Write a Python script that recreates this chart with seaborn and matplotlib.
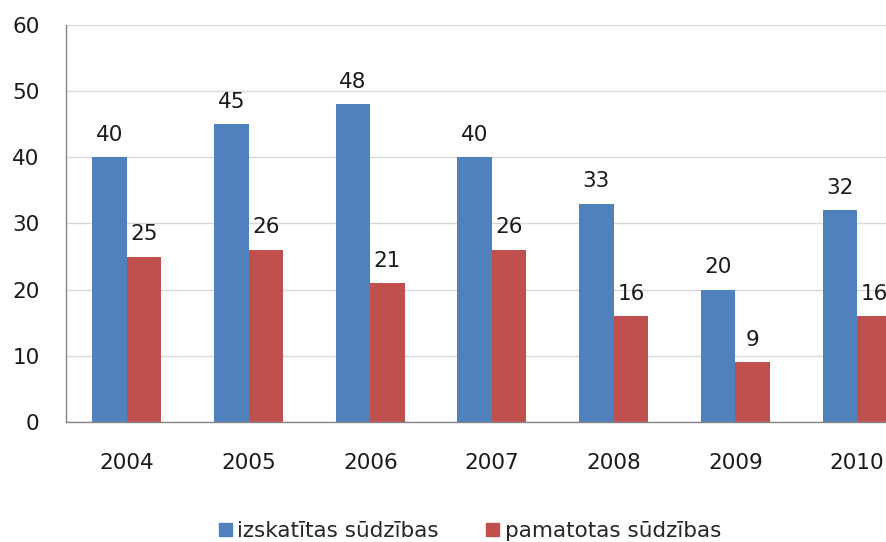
import matplotlib
matplotlib.use("Agg")
import matplotlib.pyplot as plt
import numpy as np
import pandas as pd
import seaborn as sns

years = ["2004", "2005", "2006", "2007", "2008", "2009", "2010"]
izskatitas = [40, 45, 48, 40, 33, 20, 32]
pamatotas = [25, 26, 21, 26, 16, 9, 16]
series_names = ["izskatītas sūdzības", "pamatotas sūdzības"]
colors = ["#4F81BD", "#C0504D"]

df = pd.DataFrame({
    "year": years * 2,
    "value": izskatitas + pamatotas,
    "series": [series_names[0]] * len(years) + [series_names[1]] * len(years),
})

sns.set_style("white")
plt.rcParams["font.family"] = ["DejaVu Sans"]

fs = 15.5

fig = plt.figure(figsize=(8.87, 5.42), dpi=100)
ax = fig.add_axes([0.0744, 0.2214, 0.9605, 0.7325])

sns.barplot(
    data=df,
    x="year",
    y="value",
    hue="series",
    palette=colors,
    width=0.567,
    gap=0,
    saturation=1,
    linewidth=0,
    ax=ax,
)

for container in ax.containers:
    ax.bar_label(container, padding=9, fontsize=fs, color="#1a1a1a")

ax.set_ylim(0, 60)
ax.set_xlim(-0.5, len(years) - 0.5)
ax.set_yticks(range(0, 61, 10))
ax.yaxis.grid(True, color="#D9D9D9", linewidth=1)
ax.set_axisbelow(True)

ax.set_xlabel("")
ax.set_ylabel("")

for side in ["top", "right"]:
    ax.spines[side].set_visible(False)
for side in ["left", "bottom"]:
    ax.spines[side].set_color("#868686")
    ax.spines[side].set_linewidth(1)

ax.set_xticks(np.arange(-0.5, len(years), 1), minor=True)
ax.tick_params(axis="x", which="major", length=0, pad=22, labelsize=fs, labelcolor="#1a1a1a")
ax.tick_params(axis="x", which="minor", length=6, color="#868686", direction="out")
ax.tick_params(axis="y", length=9, color="#868686", direction="out", pad=10,
               labelsize=fs, labelcolor="#1a1a1a")

ax.legend_.remove()
handles = [plt.Rectangle((0, 0), 1, 1, color=c) for c in colors]
fig.legend(
    handles,
    series_names,
    loc="center",
    bbox_to_anchor=(0.53, 0.02),
    ncol=2,
    frameon=False,
    fontsize=fs,
    handlelength=0.6,
    handleheight=0.6,
    handletextpad=0.25,
    columnspacing=2.2,
)

fig.savefig("out.png", dpi=100)
